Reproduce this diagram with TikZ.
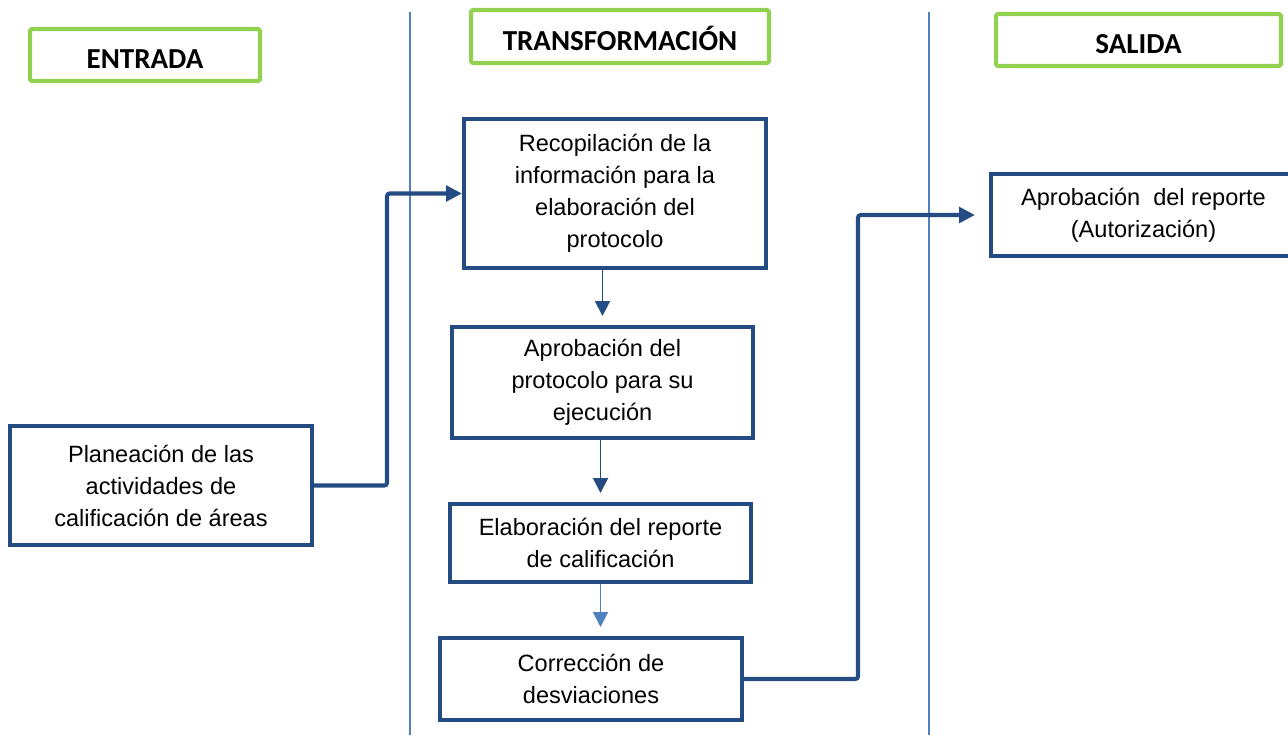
\documentclass[tikz,border=0pt]{standalone}
\usepackage{fontspec}
\setmainfont{Liberation Sans}
\newfontfamily\headfont{Carlito}
\usetikzlibrary{arrows.meta,positioning}
\definecolor{procblue}{RGB}{36,76,130}
\definecolor{laneblue}{RGB}{79,129,189}
\definecolor{headgreen}{RGB}{146,208,80}
\begin{document}
\begin{tikzpicture}[x=0.02cm,y=-0.02cm,
  head/.style={draw=headgreen,line width=2.3pt,rounded corners=1pt,font=\headfont\bfseries\fontsize{16.5}{19}\selectfont},
  proc/.style={draw=procblue,line width=2.3pt,align=center,font=\fontsize{13.4}{18.2}\selectfont},
  flow/.style={draw=procblue,line width=2.3pt,rounded corners=1.5pt,-{Triangle[length=0.32cm,width=0.31cm]}},
  down/.style={draw=procblue,line width=1.1pt,-{Triangle[length=0.3cm,width=0.3cm]},shorten >=0.18cm},
  lane/.style={draw=laneblue,line width=0.8pt}]
 \useasboundingbox (0,0) rectangle (1288,735);
 \draw[lane] (410,12) -- (410,735);
 \draw[lane] (929,12) -- (929,735);

 \node[head,minimum width=4.6cm,minimum height=1.04cm] (entrada) at (145,55) {\raisebox{-7.6pt}[0pt][0pt]{ENTRADA}};
 \node[head,minimum width=5.96cm,minimum height=1.06cm] (transf) at (620,36.5) {\raisebox{-7.8pt}[0pt][0pt]{TRANSFORMACIÓN}};
 \node[head,minimum width=5.7cm,minimum height=1.04cm] (salida) at (1138.5,40) {\raisebox{-7.6pt}[0pt][0pt]{SALIDA}};

 \node[proc,minimum width=6.04cm,minimum height=2.98cm] (recop) at (615,193.5) {Recopilación de la\\información para la\\elaboración del\\protocolo};
 \node[proc,minimum width=6.02cm,minimum height=2.22cm] (aprobprot) at (602.5,382.5) {Aprobación del\\protocolo para su\\ejecución};
 \node[proc,minimum width=6.02cm,minimum height=1.56cm] (elab) at (600.5,543) {Elaboración del reporte\\de calificación};
 \node[proc,minimum width=6.04cm,minimum height=1.64cm] (correc) at (591,679) {Corrección de\\desviaciones};
 \node[proc,minimum width=6.04cm,minimum height=2.38cm] (planea) at (161,485.5) {Planeación de las\\actividades de\\calificación de áreas};
 \node[proc,minimum width=6.1cm,minimum height=1.64cm] (aprobrep) at (1143.5,215) {Aprobación\ \ del reporte\\(Autorización)};

 \draw[flow] (planea.east) -- ++(73,0) |- (recop.west);
 \draw[down] (recop.south -| aprobprot.north) -- (aprobprot.north);
 \draw[down] (aprobprot.south -| elab.north) -- (elab.north);
 \draw[down,draw=laneblue] (elab.south) -- (elab.south |- correc.north);
 \draw[flow,shorten >=0.28cm] (correc.east) -- ++(114,0) |- (aprobrep.west);
\end{tikzpicture}
\end{document}
